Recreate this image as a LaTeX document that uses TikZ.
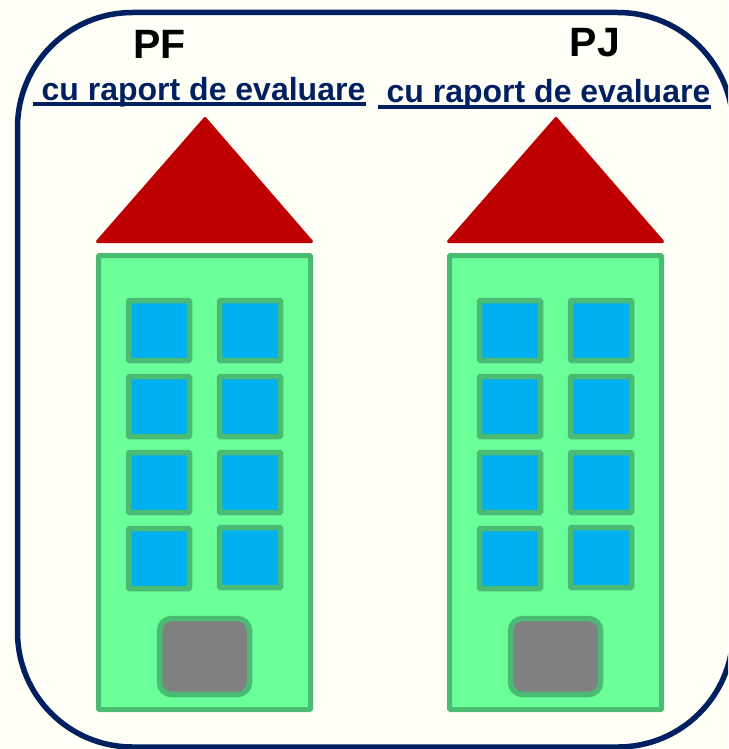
\documentclass[tikz,border=0pt]{standalone}
\usepackage{fontspec}
\setmainfont{Liberation Sans}
\definecolor{paper}{HTML}{FFFFF8}
\definecolor{navy}{HTML}{002060}
\definecolor{roof}{HTML}{BE0000}
\definecolor{wall}{HTML}{6BFF99}
\definecolor{trim}{HTML}{4ABB73}
\definecolor{pane}{HTML}{00B0F0}
\definecolor{entry}{HTML}{808080}
\tikzset{
  frame/.style={draw=navy,line width=5.5pt,rounded corners=115pt},
  roofshape/.style={fill=roof,draw=roof,line width=3pt,line join=round},
  wallshape/.style={fill=wall,draw=trim,line width=5pt,rounded corners=1pt},
  windowshape/.style={fill=pane,draw=trim,line width=5.5pt,rounded corners=1pt},
  doorshape/.style={fill=entry,draw=trim,line width=5.5pt,rounded corners=12pt},
  title/.style={font=\fontsize{41}{41}\selectfont\bfseries,text=black,inner sep=0pt,anchor=base},
  subtitle/.style={font=\fontsize{32}{33}\selectfont\bfseries,text=navy,inner sep=0pt,anchor=base},
  rule/.style={draw=navy,line width=4pt}
}
\begin{document}
\begin{tikzpicture}[x=1pt,y=-1pt]
  \useasboundingbox (0,0) rectangle (728,749);
  \clip (0,0) rectangle (728,749);
  \fill[paper] (0,0) rectangle (728,749);
  \draw[frame] (17.5,12.5) rectangle (733,747);

  % headings
  \node[title] (pf) at (159.5,59) {PF};
  \node[title] (pj) at (595,57) {PJ};
  \node[subtitle] (leftnote) at (203.5,100.8) {cu raport de evaluare};
  \node[subtitle] (rightnote) at (548.5,102.8) {cu raport de evaluare};
  \coordinate (lnA) at (33,104.5);
  \coordinate (lnB) at (366,104.5);
  \coordinate (rnA) at (378,106.8);
  \coordinate (rnB) at (711,106.8);
  \draw[rule] (lnA) -- (lnB);
  \draw[rule] (rnA) -- (rnB);

  % the two buildings, identical apart from their horizontal offset
  \foreach \dx in {0,351}{
    \begin{scope}[xshift=\dx pt]
      \draw[roofshape] (205,118.5) -- (311.5,241.5) -- (97.5,241.5) -- cycle;
      \draw[wallshape] (98.5,255.5) rectangle (310.5,709.5);
      \foreach \top in {300.5,376.5,452.5,528.5}
        \draw[windowshape] (128.5,\top) rectangle (189.5,\top+60);
      \foreach \top in {300.5,376.5,452.5,527.5}
        \draw[windowshape] (219.5,\top) rectangle (280.5,\top+60);
      \draw[doorshape] (159.5,618.5) rectangle (249.5,694.5);
    \end{scope}
  }
\end{tikzpicture}
\end{document}
